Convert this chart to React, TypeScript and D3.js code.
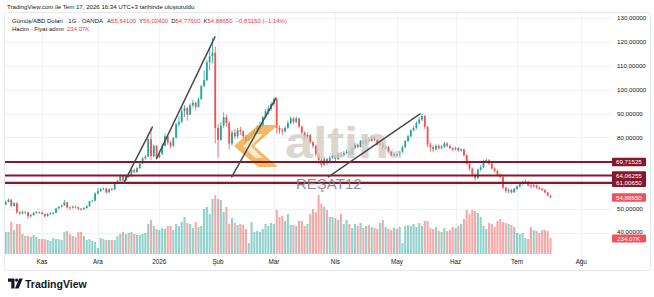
import React from "react";
import * as d3 from "d3";

// ---- Data (daily bars, Oct 14 2025 – Jul 17 2026) ----
const firstOpen = 51.5;
const closes = [
  // Oct
  51.9, 53.0, 54.0, 51.3, 52.5, 48.7, 48.2, 48.9, 48.6, 47.0, 47.5, 48.4, 48.7, 48.6,
  // Nov
  48.0, 47.0, 48.0, 48.2, 48.4, 50.3, 51.0, 51.5, 52.8, 50.7, 50.6, 51.0, 50.8, 50.2, 49.9, 50.4, 51.2, 53.3, 53.5, 56.5,
  // Dec
  57.5, 58.4, 58.6, 57.0, 58.3, 58.2, 60.7, 61.8, 64.0, 62.0, 63.9, 63.8, 66.4, 65.5, 67.1, 69.0, 71.3, 72.0, 79.3, 72.2, 76.5, 71.6,
  // Jan
  73.0, 76.5, 80.5, 77.8, 76.6, 79.8, 85.5, 86.5, 91.0, 92.3, 89.5, 93.5, 94.5, 92.8, 96.0, 101.5, 104.0, 111.5, 114.0, 115.5, 84.0,
  // Feb
  79.0, 85.0, 88.5, 86.0, 77.5, 82.0, 80.5, 83.0, 82.5, 80.5, 78.5, 79.5, 81.0, 82.5, 84.0, 85.0, 88.5, 91.0, 92.0, 94.0,
  // Mar
  96.0, 84.0, 83.0, 82.5, 84.0, 86.0, 88.0, 86.5, 88.0, 84.5, 82.0, 80.0, 81.0, 78.0, 76.5, 73.0, 70.5, 68.5, 71.0, 69.5, 71.5, 72.5,
  // Apr
  71.0, 73.0, 72.5, 73.5, 74.0, 73.0, 75.5, 77.0, 76.0, 78.5, 77.5, 79.0, 78.5, 80.0, 79.0, 77.0, 77.5, 75.5, 76.0, 74.0, 72.5, 73.0,
  // May
  72.5, 74.0, 76.0, 78.5, 80.5, 83.0, 84.0, 86.0, 87.5, 89.0, 84.5, 77.0, 76.0, 75.0, 76.5, 75.5, 76.0, 77.5, 76.5, 75.5, 75.0,
  // Jun
  75.5, 74.5, 75.0, 72.5, 69.0, 67.0, 64.5, 63.0, 66.5, 67.5, 70.0, 70.5, 69.0, 67.0, 66.0, 64.5, 63.5, 59.0, 57.5, 58.0, 57.0, 58.5,
  // Jul
  59.5, 60.5, 61.0, 61.5, 60.0, 59.5, 60.0, 59.0, 58.5, 58.0, 57.0, 55.641, 54.8865,
];
const highs = [
  52.3, 53.6, 54.4, 54.2, 52.9, 52.8, 49.1, 49.3, 49.2, 48.8, 48.0, 48.9, 49.3, 49.0,
  48.9, 48.1, 48.3, 48.7, 48.9, 50.6, 51.2, 51.9, 53.8, 52.9, 51.2, 51.5, 51.4, 51.0, 50.5, 50.8, 51.6, 53.5, 54.0, 57.0,
  58.8, 58.9, 59.0, 58.9, 58.7, 58.9, 61.0, 62.2, 64.6, 64.3, 64.3, 64.5, 66.8, 67.0, 67.6, 69.5, 71.7, 72.6, 80.0, 84.0, 77.0, 76.8,
  74.5, 77.5, 81.6, 80.8, 78.5, 80.2, 86.3, 89.0, 93.0, 93.5, 92.8, 94.3, 95.8, 95.0, 96.8, 102.0, 108.0, 112.5, 117.5, 121.6, 118.0,
  85.5, 86.5, 90.5, 89.5, 87.0, 83.0, 83.5, 84.0, 84.5, 83.0, 81.0, 80.5, 82.0, 83.5, 85.0, 86.5, 89.0, 91.8, 93.5, 95.0,
  96.8, 96.3, 85.0, 84.0, 84.8, 87.0, 88.8, 88.5, 88.8, 88.2, 85.0, 82.5, 82.0, 81.5, 78.5, 77.0, 73.5, 71.5, 71.8, 71.5, 72.3, 73.5,
  73.0, 73.8, 74.0, 74.3, 75.0, 74.5, 76.0, 77.8, 77.5, 79.0, 79.0, 79.8, 80.0, 80.8, 80.5, 79.5, 78.2, 78.0, 76.8, 76.5, 74.5, 73.8,
  73.5, 74.5, 76.5, 79.0, 81.2, 83.5, 85.0, 86.8, 88.5, 89.8, 89.3, 84.8, 78.0, 76.8, 77.3, 77.0, 76.8, 78.2, 78.0, 77.0, 76.0,
  76.2, 76.0, 75.5, 75.3, 73.0, 69.5, 67.5, 65.0, 67.0, 68.5, 70.8, 71.2, 71.0, 69.5, 67.5, 66.5, 65.0, 63.8, 59.5, 58.8, 58.5, 59.0,
  60.0, 61.0, 61.8, 62.5, 61.8, 60.5, 60.8, 60.3, 59.5, 59.0, 58.3, 57.2, 56.024,
];
const lows = [
  51.2, 51.7, 52.8, 50.8, 51.0, 47.9, 47.5, 47.8, 48.0, 45.9, 46.5, 47.2, 48.1, 48.0,
  47.6, 46.6, 46.9, 47.6, 47.8, 48.3, 50.1, 50.7, 51.3, 50.2, 49.8, 50.2, 50.3, 49.6, 49.3, 49.6, 50.2, 51.0, 53.0, 53.4,
  56.2, 57.2, 57.9, 56.5, 56.8, 57.6, 58.0, 60.4, 61.6, 61.5, 61.9, 63.0, 63.5, 65.0, 65.3, 67.0, 68.8, 70.5, 71.8, 70.5, 71.6, 70.8,
  71.3, 72.8, 76.2, 76.9, 75.5, 76.0, 79.6, 84.5, 86.0, 88.5, 87.0, 89.3, 92.5, 91.5, 92.5, 95.8, 101.0, 103.5, 108.0, 111.0, 77.5,
  71.5, 78.5, 84.0, 84.5, 75.0, 76.5, 79.5, 79.5, 81.0, 79.5, 77.0, 77.5, 78.8, 80.5, 82.0, 83.0, 84.5, 88.0, 89.5, 91.0,
  93.0, 81.5, 81.5, 81.0, 82.0, 83.5, 85.5, 85.5, 86.0, 84.0, 81.0, 79.0, 79.5, 77.5, 75.5, 72.0, 69.0, 67.4, 68.0, 68.5, 69.0, 71.0,
  70.0, 70.5, 71.8, 72.0, 73.0, 72.5, 72.8, 75.0, 75.5, 75.8, 77.0, 77.0, 78.0, 78.2, 78.5, 76.5, 76.5, 75.0, 74.8, 73.5, 72.0, 71.8,
  71.8, 72.0, 73.5, 75.5, 78.0, 80.0, 82.5, 83.5, 85.5, 86.8, 83.5, 76.0, 74.0, 73.8, 74.5, 75.0, 75.0, 75.5, 76.0, 75.0, 74.2,
  74.5, 74.0, 74.0, 72.0, 68.5, 66.0, 63.8, 62.0, 62.5, 66.0, 67.0, 69.3, 68.5, 66.5, 65.2, 63.8, 62.8, 58.5, 56.8, 56.5, 56.5, 56.8,
  58.0, 59.0, 60.0, 60.5, 59.5, 58.8, 59.0, 58.5, 57.8, 57.5, 56.5, 55.3, 54.776,
];
// volume in thousands
const volumes = [
  322, 322, 322, 468, 351, 439, 439, 293, 263, 263, 249, 278, 249, 219, 219, 219, 205, 190, 234, 219,
  219, 205, 322, 336, 293, 263, 249, 322, 322, 263, 205, 219, 190, 176, 88, 234, 219, 205, 205, 205,
  205, 263, 293, 322, 293, 307, 322, 293, 278,
  278, 293, 307, 439, 497, 410, 366, 351, 380, 366, 410, 410, 351, 439, 410, 468, 541, 454, 439, 380,
  468, 395, 410, 658, 688, 585, 805, 863, 805, 790, 614, 688, 439, 527, 454, 424, 439, 424, 366, 161,
  468, 322, 336, 322, 366, 439, 410, 454, 439, 644, 541, 556, 483, 585, 424, 424, 410, 483, 483, 410,
  439, 585, 658, 614, 863, 732, 688, 644, 541, 541, 527, 497, 585, 439, 497, 439, 380, 439, 410, 454,
  380, 410, 424, 395, 380, 366, 454, 497, 395, 366, 351, 380, 366, 395, 161, 410, 424, 410, 439, 395,
  454, 410, 483, 483, 380, 366, 395,
  336, 322, 380, 336, 351, 395, 380, 410, 439, 512, 644, 585, 644, 629, 600, 541, 410, 366, 454, 439,
  395, 483, 512, 468, 454, 439, 424, 395, 307, 293, 307, 234, 219, 395, 351, 336, 307, 351, 351, 336,
  234.07,
];

const monthLabels = ["Kas", "Ara", "2026", "Şub", "Mar", "Nis", "May", "Haz", "Tem", "Ağu"];
const monthBarIndex = [14, 34, 56, 77, 97, 119, 141, 162, 184, 207];

const gridPrices = [130, 120, 110, 100, 90, 80, 70, 60, 50, 40];
const axisLabelPrices = [130, 120, 110, 100, 90, 80, 50, 40];

const levelPrices = [69.71525, 64.06255, 61.0065];

const trendStartIdx = [43.3, 55.0, 81.9, 116.5];
const trendStartPrice = [61.0, 71.2, 63.5, 63.5];
const trendEndIdx = [53.5, 75.9, 97.7, 149.3];
const trendEndPrice = [84.3, 122.1, 96.5, 89.9];

const ohlcLetters = ["A", "Y", "D", "K"];
const ohlcValues = [55.641, 56.024, 54.776, 54.8865];
const changeValue = -0.8315;
const changePct = -1.14;
const lastClose = 54.8865;
const lastVolumeLabel = "234.07K";

const W = 654;
const H = 297;
const PL = 5;
const PR = 612;
const PT = 13;
const PB = 256;
const FONT = "'Liberation Sans', Arial, Helvetica, sans-serif";
const UP = "#26a69a";
const DOWN = "#ef5350";
const TXT = "#131722";
const RED = "#f23645";
const LEVEL = "#86182a";

export default function App() {
  const n = closes.length;
  const x = d3.scaleLinear().domain([0, n - 1]).range([2.9, 2.9 + (n - 1) * 2.794]);
  const y = d3.scaleLinear().domain([40, 130]).range([233, 18]);
  const vy = d3.scaleLinear().domain([0, 863]).range([254, 195]);
  const opens = closes.map((c, i) => (i === 0 ? firstOpen : closes[i - 1]));
  const fmt5 = (v: number) => d3.format(".5f")(v).replace(".", ",");
  const fmtSigned = (v: number, d: number) =>
    (v < 0 ? "\u2212" : "+") + d3.format(`.${d}f`)(Math.abs(v)).replace(".", ",");
  const bw = 1.8;
  const vw = 2.1;

  return (
    <svg
      width={W}
      height={H}
      viewBox={`0 0 ${W} ${H}`}
      style={{ position: "fixed", left: 0, top: 0, background: "#fff", fontFamily: FONT }}
    >
      <defs>
        <clipPath id="plotClip">
          <rect x={PL} y={PT} width={PR - PL} height={PB - PT} />
        </clipPath>
      </defs>
      <rect x={0} y={0} width={W} height={H} fill="#ffffff" />

      {/* header line */}
      <text x={7} y={8.6} fontSize={6.1} fill={TXT}>
        TradingView.com ile Tem 17, 2026 16:34 UTC+3 tarihinde oluşturuldu
      </text>

      {/* frame */}
      <rect x={4.5} y={12.5} width={646} height={258} rx={3} fill="none" stroke="#e6e8ef" strokeWidth={1} />

      {/* grid */}
      <g stroke="#eff1f6" strokeWidth={1}>
        {gridPrices.map((p) => (
          <line key={"h" + p} x1={PL} x2={PR} y1={Math.round(y(p)) + 0.5} y2={Math.round(y(p)) + 0.5} />
        ))}
        {monthBarIndex.map((b, i) => (
          <line key={"v" + i} x1={Math.round(x(b)) + 0.5} x2={Math.round(x(b)) + 0.5} y1={PT} y2={PB} />
        ))}
      </g>

      <g clipPath="url(#plotClip)">
        {/* volume */}
        {volumes.map((v, i) => (
          <rect
            key={"v" + i}
            x={x(i) - vw / 2}
            y={vy(v)}
            width={vw}
            height={vy(0) - vy(v)}
            fill={closes[i] >= opens[i] ? UP : DOWN}
            opacity={0.5}
          />
        ))}

        {/* candles */}
        {closes.map((c, i) => {
          const o = opens[i];
          const col = c >= o ? UP : DOWN;
          const hi = Math.max(highs[i], o, c);
          const lo = Math.min(lows[i], o, c);
          const top = y(Math.max(o, c));
          const bot = y(Math.min(o, c));
          return (
            <g key={"c" + i}>
              <line x1={x(i)} x2={x(i)} y1={y(hi)} y2={y(lo)} stroke={col} strokeWidth={0.8} />
              <rect x={x(i) - bw / 2} y={top} width={bw} height={Math.max(0.8, bot - top)} fill={col} />
            </g>
          );
        })}

        {/* watermark logo */}
        <g opacity={0.78}>
          <polygon points="258,125 278,125 254,146 278,167 258,167 234,146" fill="#efa53c" />
          <polygon points="255,134 263,134 251,146 263,158 255,158 243,146" fill="#fbe3b8" />
          <text x={285} y={158} fontSize={44} fontWeight="bold" fill="#d3cbc2" textLength={104} lengthAdjust="spacingAndGlyphs">
            altin
          </text>
          <text x={391} y={158} fontSize={12} fontWeight="bold" fill="#d3cbc2">
            in
          </text>
        </g>

        {/* horizontal levels */}
        {levelPrices.map((p, i) => (
          <line key={"l" + i} x1={PL} x2={PR} y1={y(p)} y2={y(p)} stroke={LEVEL} strokeWidth={2.2} />
        ))}

        {/* trend lines */}
        {trendStartIdx.map((s, i) => (
          <line
            key={"t" + i}
            x1={x(s)}
            y1={y(trendStartPrice[i])}
            x2={x(trendEndIdx[i])}
            y2={y(trendEndPrice[i])}
            stroke="#4a4a4a"
            strokeWidth={1.5}
            strokeLinecap="round"
          />
        ))}

        <text x={296} y={188.5} fontSize={15} fill="#7d8089" opacity={0.85}>
          REŞAT12
        </text>
      </g>

      {/* legend */}
      <text x={12} y={23.4} fontSize={6} fill={TXT}>
        <tspan>Gümüş/ABD Doları · 1G · OANDA</tspan>
        {ohlcLetters.map((l, i) => (
          <React.Fragment key={"o" + i}>
            <tspan dx={i === 0 ? 4 : 3}>{l}</tspan>
            <tspan fill={RED}>{fmt5(ohlcValues[i])}</tspan>
          </React.Fragment>
        ))}
        <tspan dx={3} fill={RED}>
          {fmtSigned(changeValue, 5)} ({fmtSigned(changePct, 2)}%)
        </tspan>
      </text>
      <text x={12} y={31.4} fontSize={6} fill={TXT}>
        <tspan>Hacim · Fiyat adımı</tspan>
        <tspan dx={3} fill={RED}>{lastVolumeLabel}</tspan>
      </text>

      {/* price axis labels */}
      {axisLabelPrices.map((p) => (
        <text key={"a" + p} x={617} y={y(p) + (p === 40 ? 1.2 : 2.2)} fontSize={6.2} fill={TXT}>
          {fmt5(p)}
        </text>
      ))}

      {/* level labels */}
      {levelPrices.map((p, i) => (
        <g key={"ll" + i}>
          <rect x={612} y={y(p) - 4.3} width={34} height={8.6} rx={1} fill={LEVEL} />
          <text x={616} y={y(p) + 2.2} fontSize={6.2} fill="#fff">
            {fmt5(p)}
          </text>
        </g>
      ))}
      <rect x={612} y={y(lastClose) - 4.3} width={34} height={8.6} rx={1} fill="#f0525c" />
      <text x={616} y={y(lastClose) + 2.2} fontSize={6.2} fill="#fff">
        {fmt5(lastClose)}
      </text>
      <rect x={612} y={vy(volumes[n - 1]) - 3.6} width={34} height={8.2} rx={1} fill="#f0525c" />
      <text x={617} y={vy(volumes[n - 1]) + 2.8} fontSize={6.2} fill="#fff">
        {lastVolumeLabel}
      </text>

      {/* time axis */}
      {monthLabels.map((m, i) => (
        <text key={"m" + i} x={x(monthBarIndex[i])} y={264.2} fontSize={6.3} fill={TXT} textAnchor="middle">
          {m}
        </text>
      ))}

      {/* TradingView logo */}
      <g fill={TXT}>
        <path d="M8 278.5 h6.5 v10 h-3.2 v-6.8 h-3.3 z" />
        <circle cx={16.6} cy={280.1} r={1.6} />
        <path d="M19.2 278.5 h3.6 l-4.2 10 h-3.6 z" />
        <text x={25} y={287.6} fontSize={10.5} fontWeight="bold">
          TradingView
        </text>
      </g>
    </svg>
  );
}
